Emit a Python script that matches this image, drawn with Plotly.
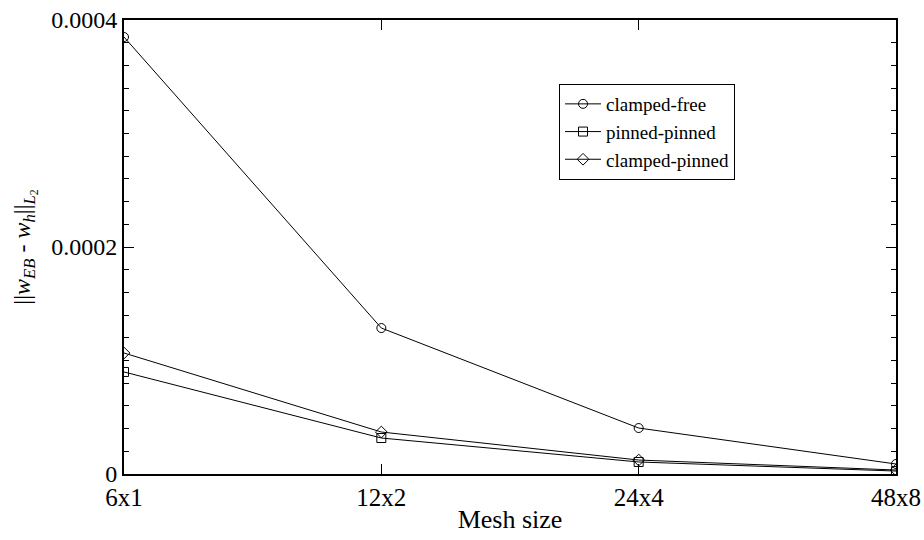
import plotly.graph_objects as go

meshes = ["6x1", "12x2", "24x4", "48x8"]
clamped_free = [0.000385, 0.0001286, 0.0000405, 0.0000088]
pinned_pinned = [0.0000899, 0.0000317, 0.0000106, 0.0000026]
clamped_pinned = [0.0001066, 0.000037, 0.0000123, 0.0000035]

xpos = list(range(len(meshes)))
font = "Liberation Serif, Times New Roman, serif"

fig = go.Figure()
for name, vals, sym in [("clamped-free", clamped_free, "circle-open"),
                        ("pinned-pinned", pinned_pinned, "square-open"),
                        ("clamped-pinned", clamped_pinned, "diamond-open")]:
    fig.add_trace(go.Scatter(x=xpos, y=vals, name=name, mode="lines+markers",
                             line=dict(color="black", width=1),
                             marker=dict(symbol=sym, size=9, color="black",
                                         line=dict(width=1, color="black"))))

fig.update_layout(
    width=924, height=540,
    margin=dict(l=124, r=28, t=20, b=66),
    paper_bgcolor="white", plot_bgcolor="white",
    font=dict(family=font, size=24, color="black"),
    showlegend=True,
    legend=dict(x=0.5635, y=0.859, xanchor="left", yanchor="top",
                bordercolor="black", borderwidth=1, bgcolor="white",
                font=dict(family=font, size=19), itemwidth=36,
                tracegroupgap=0),
    xaxis=dict(range=[0, 3], tickmode="array", tickvals=xpos, ticktext=meshes,
               ticks="inside", ticklen=10, tickcolor="black",
               tickfont=dict(family=font, size=25), automargin=False,
               showline=True, linecolor="black", linewidth=2, mirror="ticks",
               showgrid=False, zeroline=False,
               title=dict(text="Mesh size", font=dict(family=font, size=26), standoff=0)),
    yaxis=dict(range=[0, 0.0004], tickmode="array", tickvals=[0, 0.0002, 0.0004],
               ticktext=["0", "0.0002", "0.0004"],
               ticks="inside", ticklen=10, tickcolor="black",
               tickfont=dict(family=font, size=24), automargin=False,
               minor=dict(dtick=0.00002, ticks="inside", ticklen=5, tickcolor="black", showgrid=False),
               showline=True, linecolor="black", linewidth=2, mirror="ticks",
               showgrid=False, zeroline=False,
               title=dict(text="||<i>w</i><sub><i>EB</i></sub> - <i>w</i><sub><i>h</i></sub>||<sub><i>L</i><sub>2</sub></sub>",
                          font=dict(family=font, size=24), standoff=14)),
)

fig.write_html("out.html")
